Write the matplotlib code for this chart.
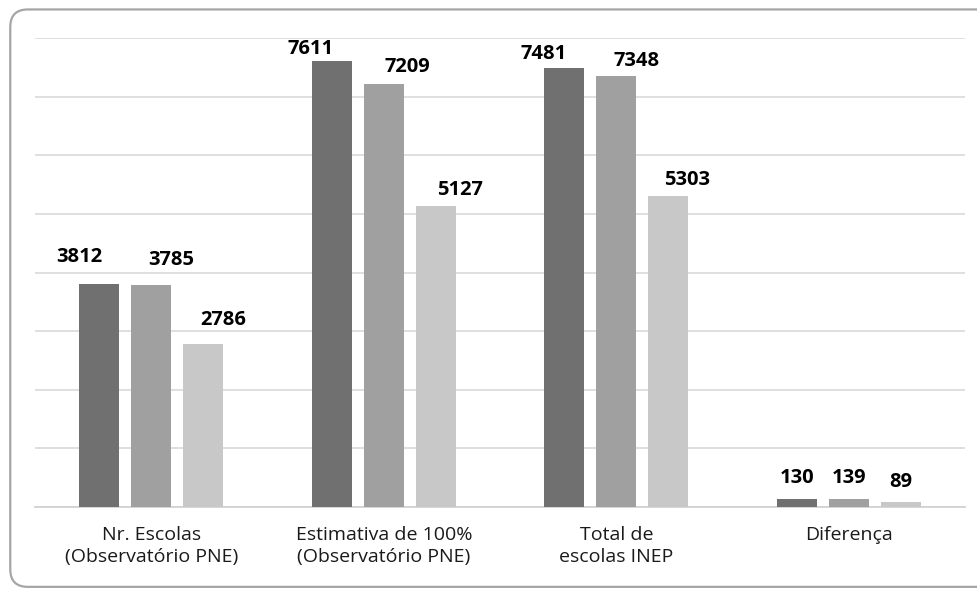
import numpy as np
import matplotlib
matplotlib.use('Agg')
import matplotlib.pyplot as plt
from matplotlib.patches import FancyBboxPatch

plt.rcParams['font.family'] = ['Open Sans', 'DejaVu Sans']

categories = ['Nr. Escolas\n(Observatório PNE)', 'Estimativa de 100%\n(Observatório PNE)',
              'Total de\nescolas INEP', 'Diferença']
serie1 = [3812, 7611, 7481, 130]
serie2 = [3785, 7209, 7348, 139]
serie3 = [2786, 5127, 5303, 89]
colors = ['#707070', '#a0a0a0', '#c8c8c8']

fig = plt.figure(figsize=(9.78, 5.91), dpi=100)
ax = fig.add_axes([0.0358, 0.1421, 0.9509, 0.7936])

# frame round the chart
box = FancyBboxPatch((0.0105, 0.007), 1.05, 0.977, boxstyle='round,pad=0,rounding_size=0.018',
                     transform=fig.transFigure, facecolor='none', edgecolor='#a6a6a6', lw=1.6,
                     mutation_aspect=978/591)
fig.patches.append(box)

x = np.arange(len(categories))
w = 0.172
step = 0.2237
# label placement in the original (pixels): horizontal shift and gap above bar
shift_px = [[-20, 20, 20], [-21, 24, 24], [-21, 20, 19], [0, 0, 0]]
gap_px = [[22, 20, 19], [7, 12, 11], [9, 10, 11], [16, 16, 15]]
for k, vals in enumerate([serie1, serie2, serie3]):
    pos = x + (k - 1) * step
    ax.bar(pos, vals, width=w, color=colors[k], zorder=3)
    for i, (p, v) in enumerate(zip(pos, vals)):
        ax.annotate(str(v), (p, v), xytext=(shift_px[i][k] * 0.72, gap_px[i][k] * 0.72),
                    textcoords='offset points', ha='center', va='baseline',
                    fontsize=14.5, fontweight='bold', color='black')

ax.set_xlim(-0.5, 3.5)
ax.set_ylim(0, 8000)
ax.set_yticks(np.arange(0, 8001, 1000))
ax.yaxis.grid(True, color='#d9d9d9', lw=1.2, zorder=0)
ax.tick_params(axis='y', left=False, labelleft=False)
ax.tick_params(axis='x', bottom=False, pad=10, labelsize=14, labelcolor='#1a1a1a')
ax.set_xticks(x)
ax.set_xticklabels(categories, linespacing=1.3)
for s in ['top', 'right', 'left']:
    ax.spines[s].set_visible(False)
ax.spines['bottom'].set_color('#d0d0d0')
ax.spines['bottom'].set_linewidth(1.2)

fig.savefig('out.png', dpi=100)
